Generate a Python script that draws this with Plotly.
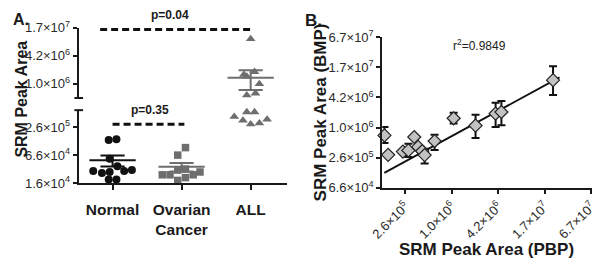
import numpy as np
import plotly.graph_objects as go

W, H = 600, 268
FONT = "Liberation Sans"

# ---------------- Panel A data ----------------
groups = ["Normal", "Ovarian<br>Cancer", "ALL"]
normal = [1.373e5, 1.438e5, 5.45e4, 2.99e4, 2.72e4, 2.85e4, 3.77e4, 2.99e4, 3.13e4, 1.97e4, 1.97e4]
ovarian = [9.49e4, 6.55e4, 2.48e4, 2.48e4, 3.13e4, 3.28e4, 2.16e4, 2.48e4, 2.85e4, 1.88e4]
all_leuk = [9.64e6, 1.665e6, 1.518e6, 1.911e6, 1.048e6, 6.02e5, 6.6e5,
            5.49e5, 5.49e5, 4.36e5, 3.62e5, 3.01e5, 3.16e5, 3.80e5]
# horizontal scatter offsets (category units)
normal_jit = [-0.056, 0.056, -0.042, -0.28, -0.154, -0.042, 0.07, 0.168, 0.28, -0.056, 0.056]
ovarian_jit = [0.056, -0.056, -0.28, -0.168, -0.056, 0.056, 0.056, 0.168, 0.266, -0.056]
all_jit = [0.0, -0.098, -0.056, 0.056, 0.126, -0.056, 0.07,
           -0.056, 0.056, -0.238, -0.112, 0.0, 0.126, 0.238]
axis_break = 5.75e5  # values above go on upper segment

a_low_ticks = [2**14, 2**16, 2**18]
a_low_text = ["1.6×10<sup>4</sup>", "6.6×10<sup>4</sup>", "2.6×10<sup>5</sup>"]
a_up_ticks = [2**20, 2**22, 2**24]
a_up_text = ["1.0×10<sup>6</sup>", "4.2×10<sup>6</sup>", "1.7×10<sup>7</sup>"]

p_labels = ["p=0.04", "p=0.35"]
sig_x = [[-0.18, 2.0], [0.0, 1.04]]
sig_level = [1.53e7, 3.01e5]

# ---------------- Panel B data ----------------
pbp = [1.414e5, 1.576e5, 2.446e5, 2.883e5, 3.43e5, 3.85e5, 4.35e5, 4.67e5, 6.28e5,
       1.108e6, 2.127e6, 3.864e6, 4.593e6, 2.136e7]
bmp = [7.30e5, 2.996e5, 3.47e5, 3.67e5, 6.79e5, 4.30e5, 3.56e5, 2.96e5, 5.64e5,
       1.606e6, 1.148e6, 1.995e6, 2.143e6, 9.26e6]
bmp_err_up = [3.46e5, 0, 0, 1.29e5, 0, 0, 0, 0.99e5, 1.89e5,
              4.74e5, 7.36e5, 1.305e6, 1.407e6, 8.41e6]
bmp_err_down = [2.12e5, 0, 0, 0.96e5, 0, 0, 0, 0.95e5, 1.92e5,
                3.44e5, 5.0e5, 9.19e5, 9.70e5, 4.55e6]
fit_x = [1.406e5, 2.592e7]
fit_y = [1.305e5, 1.054e7]
r2_text = "r<sup>2</sup>=0.9849"

b_ticks = [2**18, 2**20, 2**22, 2**24, 2**26]
b_text = ["2.6×10<sup>5</sup>", "1.0×10<sup>6</sup>", "4.2×10<sup>6</sup>",
          "1.7×10<sup>7</sup>", "6.7×10<sup>7</sup>"]
b_yticks = [2**16, 2**18, 2**20, 2**22, 2**24, 2**26]
b_ytext = ["6.6×10<sup>4</sup>"] + b_text


def px(x):
    return x / W


def py(y):
    return 1 - y / H


fig = go.Figure()

DARK = "#111111"
GRAY = "#6e6e6e"

# ---- Panel A points ----
def add_points(vals, jit, gi, symbol, color, size):
    vals = np.array(vals)
    jit = np.array(jit)
    up = vals >= axis_break
    for mask, ya in ((~up, "y"), (up, "y2")):
        if mask.any():
            fig.add_trace(go.Scatter(
                x=gi + jit[mask], y=vals[mask], xaxis="x", yaxis=ya, mode="markers",
                marker=dict(symbol=symbol, color=color, size=size, line=dict(width=0)),
                cliponaxis=False, hoverinfo="skip"))


def add_mean_sem(vals, gi, color):
    v = np.array(vals)
    m = v.mean()
    s = v.std(ddof=1) / np.sqrt(len(v))
    ya = "y2" if m - s >= axis_break else "y"
    style = dict(color=color, width=2)
    fig.add_trace(go.Scatter(x=[gi - 0.335, gi + 0.335], y=[m, m], xaxis="x", yaxis=ya,
                             mode="lines", line=style, cliponaxis=False, hoverinfo="skip"))
    for lvl in (m - s, m + s):
        fig.add_trace(go.Scatter(x=[gi - 0.175, gi + 0.175], y=[lvl, lvl], xaxis="x", yaxis=ya,
                                 mode="lines", line=style, cliponaxis=False, hoverinfo="skip"))
    fig.add_trace(go.Scatter(x=[gi, gi], y=[m - s, m + s], xaxis="x", yaxis=ya,
                             mode="lines", line=style, cliponaxis=False, hoverinfo="skip"))


add_points(normal, normal_jit, 0, "circle", DARK, 8)
add_points(ovarian, ovarian_jit, 1, "square", GRAY, 7.5)
add_points(all_leuk, all_jit, 2, "triangle-up", GRAY, 8.5)
add_mean_sem(normal, 0, DARK)
add_mean_sem(ovarian, 1, GRAY)
add_mean_sem(all_leuk, 2, GRAY)

# significance dashed lines
for xs, lvl in zip(sig_x, sig_level):
    ya = "y2" if lvl >= axis_break else "y"
    fig.add_trace(go.Scatter(x=xs, y=[lvl, lvl], xaxis="x", yaxis=ya, mode="lines",
                             line=dict(color=DARK, width=3, dash="7px,4px"),
                             cliponaxis=False, hoverinfo="skip"))

# ---- Panel B ----
fig.add_trace(go.Scatter(x=fit_x, y=fit_y, xaxis="x3", yaxis="y3", mode="lines",
                         line=dict(color=DARK, width=1.8), cliponaxis=False, hoverinfo="skip"))
fig.add_trace(go.Scatter(
    x=pbp, y=bmp, xaxis="x3", yaxis="y3", mode="markers",
    marker=dict(symbol="diamond", size=10, color="#c2c2c2", line=dict(color="#222222", width=1.2)),
    error_y=dict(type="data", symmetric=False, array=bmp_err_up, arrayminus=bmp_err_down,
                 color=DARK, thickness=2, width=4),
    cliponaxis=False, hoverinfo="skip"))

tickfont = dict(family=FONT, size=13, color="#2a2a2a")
common_axis = dict(showline=True, linecolor="#1a1a1a", linewidth=2, ticks="outside",
                   tickcolor="#1a1a1a", tickwidth=1.5, showgrid=False, zeroline=False,
                   fixedrange=True, ticklabeloverflow="allow")

fig.update_layout(
    width=W, height=H, margin=dict(l=0, r=0, t=0, b=0),
    paper_bgcolor="white", plot_bgcolor="white", showlegend=False,
    xaxis=dict(domain=[px(68), px(283)], range=[-0.49, 2.52], anchor="y",
               tickmode="array", tickvals=[0, 1, 2], ticktext=groups, ticklen=5,
               ticklabelstandoff=6,
               tickfont=dict(family=FONT, size=15.5, color="#1a1a1a", weight="bold"),
               **common_axis),
    yaxis=dict(domain=[py(186), py(108)], type="log", range=[np.log10(2**14), 5.780],
               anchor="x", tickmode="array", tickvals=a_low_ticks, ticktext=a_low_text,
               ticklen=4, tickfont=tickfont, **common_axis),
    yaxis2=dict(domain=[py(95), py(20)], type="log", range=[5.7196, np.log10(2**24) + 0.0005],
                anchor="x", tickmode="array", tickvals=a_up_ticks, ticktext=a_up_text,
                ticklen=4, tickfont=tickfont, **common_axis),
    xaxis3=dict(domain=[px(382), px(598.5)], type="log", range=[5.1217, 7.8275],
                anchor="y3", tickmode="array", tickvals=b_ticks, ticktext=b_text,
                tickangle=-45, ticklen=4, tickfont=tickfont, **common_axis),
    yaxis3=dict(domain=[py(191), py(30)], type="log", range=[np.log10(2**16) - 0.0005, np.log10(2**26) + 0.0005],
                anchor="x3", tickmode="array", tickvals=b_yticks, ticktext=b_ytext,
                ticklen=4, tickfont=tickfont, **common_axis),
)

# axis-break caps
for yb in (95, 108):
    fig.add_shape(type="line", xref="paper", yref="paper", x0=px(63.5), x1=px(72.5),
                  y0=py(yb), y1=py(yb), line=dict(color="#1a1a1a", width=2))

bold = lambda s: dict(family=FONT, size=s, color="#1a1a1a", weight="bold")
ann = [
    dict(text="A.", x=px(8.5), y=py(11), font=bold(16)),
    dict(text="B.", x=px(311), y=py(12), font=bold(17)),
    dict(text="SRM Peak Area", x=px(9), y=py(96), font=bold(16), textangle=-90),
    dict(text="SRM Peak Area (BMP)", x=px(318), y=py(110), font=bold(17), textangle=-90),
    dict(text="SRM Peak Area (PBP)", x=px(490), y=py(257), font=bold(17)),
    dict(text=p_labels[0], x=px(162), y=py(6.5), font=bold(12)),
    dict(text=p_labels[1], x=px(141.5), y=py(108), font=bold(12)),
    dict(text=r2_text, x=px(483), y=py(38), font=dict(family=FONT, size=12, color="#222222")),
]
for a in ann:
    fig.add_annotation(xref="paper", yref="paper", showarrow=False,
                       xanchor="center", yanchor="middle", **a)

fig.write_html("out.html", config={"displayModeBar": False},
               post_script="document.body.style.margin='0';document.body.style.overflow='hidden';")
